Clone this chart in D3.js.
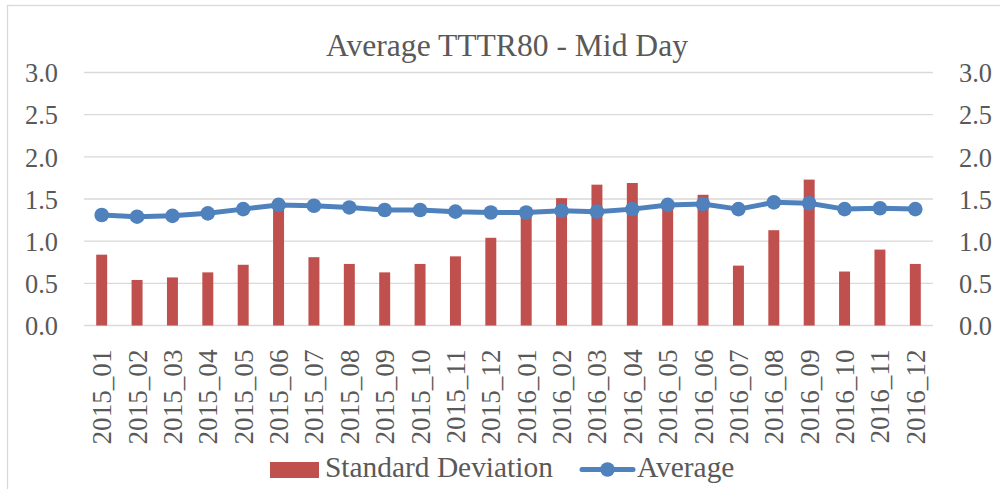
<!DOCTYPE html>
<html>
<head>
<meta charset="utf-8">
<script src="https://cdn.jsdelivr.net/npm/d3@7"></script>
<style>
html,body{margin:0;padding:0;background:#fff;}
svg{display:block;}
</style>
</head>
<body>
<svg id="chart" width="1000" height="489" font-family="'Liberation Serif', 'DejaVu Serif', serif"></svg>
<script>
const categories = ["2015_01","2015_02","2015_03","2015_04","2015_05","2015_06","2015_07","2015_08","2015_09","2015_10","2015_11","2015_12",
  "2016_01","2016_02","2016_03","2016_04","2016_05","2016_06","2016_07","2016_08","2016_09","2016_10","2016_11","2016_12"];
const stdDev = [0.84,0.54,0.57,0.63,0.72,1.43,0.81,0.73,0.63,0.73,0.82,1.04,
  1.34,1.51,1.67,1.69,1.44,1.55,0.71,1.13,1.73,0.64,0.90,0.73];
const average = [1.31,1.29,1.30,1.33,1.38,1.43,1.42,1.40,1.37,1.37,1.35,1.34,
  1.34,1.36,1.35,1.38,1.43,1.44,1.38,1.46,1.45,1.38,1.39,1.38];
const yTicks = [0,0.5,1,1.5,2,2.5,3];
const title = "Average TTTR80 - Mid Day";
const seriesNames = ["Standard Deviation","Average"];

const FONT = "'Liberation Serif', 'DejaVu Serif', serif";
const svg = d3.select("#chart");
const L = 84, R = 933, T = 72.5, B = 325.5;
const barColor = "#C0504D", lineColor = "#4F81BD", gridColor = "#D9D9D9", textColor = "#595959";

function fitSize(str, targetW, base) {
  const t = svg.append("text").attr("font-family", FONT).attr("font-size", base).text(str);
  const w = t.node().getComputedTextLength();
  t.remove();
  return base * targetW / w;
}

// chart border
svg.append("rect").attr("x", 7.5).attr("y", 5.5).attr("width", 1100).attr("height", 600)
  .attr("fill", "none").attr("stroke", gridColor).attr("stroke-width", 1.3);

const x = d3.scaleBand().domain(categories).range([L, R]).paddingInner(0.69).paddingOuter(0.345);
const xc = d3.scalePoint().domain(categories).range([L, R]).padding(0.5);
const y = d3.scaleLinear().domain([0, 3]).range([B, T]);

// gridlines
svg.append("g").selectAll("line").data(yTicks).join("line")
  .attr("x1", L).attr("x2", R)
  .attr("y1", d => y(d)).attr("y2", d => y(d))
  .attr("stroke", gridColor).attr("stroke-width", 1.3);

const tickSize = fitSize("0.0", 33, 24);

function styleAxis(g) {
  g.attr("font-family", FONT);
  g.select(".domain").remove();
  g.selectAll("text").attr("font-family", FONT).attr("fill", textColor);
}

// left axis
const leftAxis = d3.axisLeft(y).tickValues(yTicks).tickFormat(d3.format(".1f")).tickSize(0).tickPadding(0);
const gl = svg.append("g").attr("transform", `translate(${L - 26},0)`).call(leftAxis);
styleAxis(gl);
gl.selectAll("text").attr("font-size", tickSize).attr("dy", "0.35em");

// right axis
const rightAxis = d3.axisRight(y).tickValues(yTicks).tickFormat(d3.format(".1f")).tickSize(0).tickPadding(0);
const gr = svg.append("g").attr("transform", `translate(${R + 26},0)`).call(rightAxis);
styleAxis(gr);
gr.selectAll("text").attr("font-size", tickSize).attr("dy", "0.35em");

// bars
svg.append("g").selectAll("rect").data(stdDev).join("rect")
  .attr("x", (d, i) => x(categories[i]))
  .attr("width", x.bandwidth())
  .attr("y", d => y(d))
  .attr("height", d => B - y(d))
  .attr("fill", barColor);

// x labels
const xSize = fitSize("2015_01", 95, 22);
const bottomAxis = d3.axisBottom(xc).tickSize(0).tickPadding(0);
const gb = svg.append("g").attr("transform", `translate(0,${B})`).call(bottomAxis);
styleAxis(gb);
gb.selectAll("text")
  .attr("font-size", xSize)
  .attr("text-anchor", "end")
  .attr("transform", "rotate(-90)")
  .attr("x", -24).attr("y", 0).attr("dy", "0.33em");

// line
const line = d3.line().x((d, i) => xc(categories[i])).y(d => y(d));
svg.append("path").datum(average).attr("d", line)
  .attr("fill", "none").attr("stroke", lineColor).attr("stroke-width", 5).attr("stroke-linejoin", "round");
svg.append("g").selectAll("circle").data(average).join("circle")
  .attr("cx", (d, i) => xc(categories[i])).attr("cy", d => y(d)).attr("r", 7.3)
  .attr("fill", lineColor);

// title
const titleSize = fitSize(title, 362, 28);
svg.append("text").attr("x", 507).attr("y", 56).attr("text-anchor", "middle")
  .attr("font-family", FONT).attr("fill", textColor)
  .attr("font-size", titleSize).text(title);

// legend
const legSize = fitSize(seriesNames[0], 228, 24);
const lg = svg.append("g").attr("font-family", FONT);
lg.append("rect").attr("x", 270).attr("y", 462).attr("width", 49).attr("height", 16).attr("fill", barColor);
lg.append("text").attr("x", 325).attr("y", 477).attr("font-size", legSize).attr("fill", textColor).text(seriesNames[0]);
lg.append("line").attr("x1", 582).attr("x2", 633).attr("y1", 469.5).attr("y2", 469.5)
  .attr("stroke", lineColor).attr("stroke-width", 5).attr("stroke-linecap", "round");
lg.append("circle").attr("cx", 607.5).attr("cy", 469.5).attr("r", 7.3).attr("fill", lineColor);
lg.append("text").attr("x", 637).attr("y", 477).attr("font-size", legSize).attr("fill", textColor).text(seriesNames[1]);
</script>
</body>
</html>
